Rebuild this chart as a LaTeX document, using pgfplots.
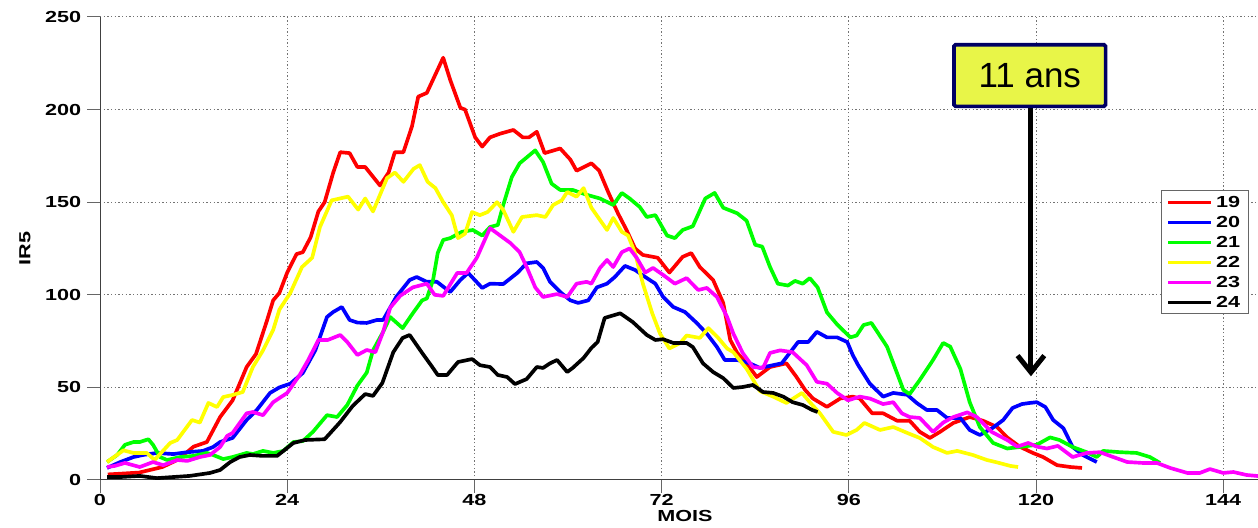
\documentclass[border=0pt]{standalone}
\usepackage{pgfplots}
\pgfplotsset{compat=1.18}
\usepackage{fontspec}
\setmainfont{Liberation Sans}
\newfontfamily\axfont[FakeStretch=1.35]{Liberation Sans}
\usetikzlibrary{arrows.meta}
\definecolor{boxfill}{RGB}{232,245,72}
\definecolor{boxdraw}{RGB}{0,0,100}
\definecolor{cR}{RGB}{255,0,0}
\definecolor{cB}{RGB}{0,0,255}
\definecolor{cG}{RGB}{0,255,0}
\definecolor{cY}{RGB}{255,255,0}
\definecolor{cM}{RGB}{255,0,255}
\definecolor{cK}{RGB}{0,0,0}
\begin{document}
\begin{tikzpicture}
\begin{axis}[
  scale only axis, width=702pt, height=277.8pt,
  xmin=0, xmax=150, ymin=0, ymax=250,
  axis x line*=bottom, axis y line*=left,
  axis line style={-, black!75, line width=0.6pt},
  xtick={0,24,48,72,96,120,144}, ytick={0,50,100,150,200,250},
  tick align=outside, major tick length=7.8pt,
  tick style={black!60, line width=0.6pt},
  grid=major,
  grid style={black!55, line width=0.6pt, dash pattern=on 0.7pt off 1.5pt},
  /pgf/number format/assume math mode=true,
  ticklabel style={font=\axfont\bfseries\fontsize{9.6}{11}\selectfont},
  xticklabel style={yshift=2.5pt},
  label style={font=\axfont\bfseries\fontsize{9.6}{11}\selectfont},
  title style={font=\axfont\bfseries\fontsize{9.6}{11}\selectfont, at={(0.5,1)}, anchor=base, yshift=7.8pt},
  title={ANNEES},
  xlabel={MOIS}, ylabel={IR5},
  xlabel style={at={(axis description cs:0.5,0)}, anchor=center, yshift=-21.5pt},
  ylabel style={at={(axis description cs:-0.0641,0.5)}, anchor=center},
  legend style={at={(axis cs:147.3,156.6)}, anchor=north east, draw=black!60, line width=0.5pt,
    font=\axfont\bfseries\fontsize{9.6}{11}\selectfont, row sep=0pt, inner xsep=3pt, inner ysep=1pt,
    nodes={text height=7pt, text depth=1pt, inner sep=2pt}},
  legend image code/.code={\draw[#1, line width=1.8pt] (0pt,0pt) -- (26pt,0pt);},
  every axis plot/.append style={line width=2.2pt, line join=round},
]
\addplot[cR] coordinates {(1,3)(3,3.5)(5,4)(7,6)(8,7)(10,11)(12,18)(13.7,20.5)(15.4,34)(17,43)(18.8,61)(20,68)(21.4,86)(22.2,97)(23,101)(24,112)(25.2,122)(26,123)(27,131)(28,145)(28.8,150)(29.9,166)(30.8,177)(32,176.5)(33,169)(34,169)(35.9,159)(37,166)(37.8,177)(38.9,177)(40,191)(40.8,207)(41.9,209)(44,228)(44.9,216)(46.2,201)(46.8,200)(48.1,185)(49,180)(50,185)(51.3,187)(53,189)(54.2,185)(55,185)(56,188)(57,176.5)(59,179)(60.3,173)(61.1,167)(63,171)(64,167)(65.2,155)(66.4,144)(67.5,135)(68.6,125)(69.6,121.5)(71.5,120)(73,112)(74.7,120.5)(75.8,122.5)(76.9,115)(78.6,108)(79.9,95.6)(80.8,75.6)(81.7,68.6)(82.9,63)(84.2,55.6)(85.9,61)(88,63)(89.3,55.6)(90.4,48.6)(91.4,44)(93.2,39.5)(94.9,44)(96.5,45)(97.4,44)(99,36)(100.4,36)(102.2,32)(103.8,32)(105.1,26)(106.4,22.7)(107.7,26)(109.4,30.8)(111.5,34)(113.2,32)(115,28.6)(116.3,23)(117.9,18)(119.6,14.6)(120.9,12.4)(122.7,8)(124.4,7)(125.9,6.5)};
\addlegendentry{19}
\addplot[cB] coordinates {(0.9,6.5)(2.6,9.7)(4.3,12.4)(5.5,13.5)(7.3,14.6)(9.4,14)(11.2,15)(13.2,15.7)(14.5,17.8)(15.4,20.5)(17,22.7)(18.8,32.4)(20.1,37.8)(21.8,47)(23,50)(24.4,52)(26,57.8)(27.6,70)(29.1,88)(29.9,90.7)(31,93.4)(32,86.4)(33,85)(34.2,84.8)(35.5,86.4)(36.3,86.4)(38,99)(39.7,108)(40.6,109.6)(41.9,107)(43.2,107)(44.9,101.5)(46.2,108)(47.2,111.8)(49,103.7)(50,106)(51.7,105.8)(53.5,111.8)(54.7,117)(56,117.7)(56.8,114.5)(57.7,107)(59,101.5)(60.3,97)(61.3,95.6)(62.6,97)(63.7,104)(65,106)(66,109.6)(67.3,115.6)(68.6,113.4)(69.9,109.6)(71.2,106)(72.2,98.8)(73.5,93.4)(75,90.7)(76.5,84.8)(77.8,79)(79.1,71.8)(80.1,64.8)(81.7,64.8)(83.3,63)(84.6,60.5)(86.3,62)(87.4,63)(88.5,69)(89.5,74.5)(90.8,74.5)(91.9,80)(93.2,77)(94.5,77)(95.8,74.5)(96.5,67.5)(97.2,62)(98.7,52)(100.4,45)(101.7,47)(103.5,46)(104.7,41.6)(106,37.8)(107.3,37.8)(108.6,33.5)(110.3,33.5)(111.5,27)(112.8,24.3)(114.4,28)(115.8,32.4)(117,38.9)(118.2,41)(119.2,41.6)(120.1,42)(121.2,39.4)(122.2,32.4)(123.5,28)(124.7,17.8)(126,13.5)(127.8,9.7)};
\addlegendentry{20}
\addplot[cG] coordinates {(0.9,9.7)(2.2,13.5)(3.2,19)(4.3,20.5)(5.1,20.5)(6.2,22)(6.8,19)(7.7,12.4)(8.6,10.8)(10.3,12.4)(12,13)(13.7,14.6)(14.5,13.5)(15.8,11.3)(17,12.4)(18.8,14.6)(19.6,14)(20.9,15.7)(22.2,14.6)(23.5,15.7)(24.8,20.5)(26,21)(27.3,26)(29.1,35)(30.4,34)(31.7,40.5)(33,51)(34.2,58)(35,70)(36.3,80)(37.2,88)(38.8,82)(40.1,90)(41.3,97)(41.9,98)(42.7,108)(43.3,122.6)(44,129.6)(44.9,130.6)(46.4,134)(47.8,135)(49,132)(50,136.6)(51,137.7)(51.7,148.5)(52.8,163.6)(53.8,171)(55.8,178)(56.8,171.7)(57.9,160)(59,156.6)(60.6,156.6)(62.4,154)(64.1,152)(65.8,148.5)(66.9,155)(67.9,152)(69.2,147.4)(70.1,142)(71.2,143)(72.7,132)(73.7,130.6)(74.7,135)(76,137)(77.6,152)(78.8,155)(79.9,147)(81.7,144)(82.9,140)(84,127)(84.9,126)(85.9,115)(86.9,106)(88.2,105)(89.1,107.5)(90.1,106)(91,109)(92,104)(93.2,90.5)(94.5,84)(96.2,77)(97,78)(97.9,83.7)(98.9,84.8)(100.9,72)(103,48.6)(103.8,46.4)(105.1,54)(106.8,64.8)(108.1,74)(109,72)(110.3,60)(111.5,42)(112.8,28.6)(114.5,20)(116.3,17)(117.9,17.8)(120.1,19)(121.8,23)(123,21.6)(124.7,17.8)(126.5,15)(127.8,12.4)(128.6,15.7)(130.8,15)(132.9,14.6)(134.6,12.4)(135.9,9.2)};
\addlegendentry{21}
\addplot[cY] coordinates {(0.9,9.7)(3,16)(4.3,14.6)(6,14.6)(7,10.8)(9,20)(9.9,21.6)(11.8,32.4)(12.8,31)(13.9,41.6)(15,39.4)(15.8,44.8)(17,45.9)(18.3,47.5)(19.6,61)(20.9,70)(22.2,81)(23,92)(24.4,101)(25.9,115)(27.2,120)(28.2,136.6)(29.7,151)(31.8,153)(33.1,146)(34,152)(35,145)(36.8,163)(37.8,166)(38.9,161)(40.2,168)(41,170)(42,161)(43,157.6)(44,150)(45.1,143)(45.9,130.6)(46.8,133)(47.7,144.7)(48.7,143)(49.7,144.7)(50.9,150)(51.7,145.8)(53,134)(54.1,142)(56,143)(57.1,142)(58.1,148.5)(59.2,151)(59.9,155.5)(61.1,153)(62,157.6)(63,147)(65,135)(65.8,141.5)(66.9,134)(67.7,132)(68.6,122.5)(69.6,106)(70.8,90)(71.8,79)(73,71)(74.4,74)(75.2,78)(76.9,76.7)(78,82)(79.2,77)(80.4,71)(81.2,69)(82.9,60)(84.6,48)(86.3,45)(88,41.6)(90,47)(91,42)(92.3,36)(94,26)(95.7,24.3)(97,27)(98,30.8)(100,27)(101.7,28.6)(103.5,25.4)(105.1,22.7)(106.8,17.8)(108.6,14.6)(109.9,15.7)(111.9,13.5)(113.7,10.8)(115,9.5)(116.7,7.6)(117.7,7)};
\addlegendentry{22}
\addplot[cM] coordinates {(0.9,7)(1.9,7.6)(3.2,9.2)(5.1,7)(6.8,9.7)(8.1,8)(9.9,10.8)(11.2,10.3)(12.8,12.4)(14.1,13.5)(15.4,17.8)(16.3,23.8)(17,25.4)(18.8,36)(19.6,36.7)(20.9,35)(22.2,42)(24,47)(25.6,56.7)(26.7,64.8)(28,75.6)(29.2,75.6)(30.8,78.3)(31.7,74.5)(33,67.5)(34.2,70.2)(35.3,69)(36.3,80)(37.2,93)(38.5,99.5)(40.1,104)(41.9,106)(42.9,100)(44,99.4)(45.8,111.8)(47,111.8)(48.3,119.9)(50,136)(51.3,132)(52.6,128)(53.8,123)(54.7,115)(55.8,104)(56.8,98.8)(58.6,100.4)(59.9,98.8)(61.1,106)(62.4,107)(63,106)(64.1,114.5)(65,118.8)(65.8,115)(66.9,123)(67.9,125)(68.8,120)(69.9,112)(70.9,114.5)(72.2,110.7)(73.7,106)(75.2,109)(76.7,102.6)(77.8,103.7)(79.1,98.8)(80.4,88)(81.2,79)(82.4,68.6)(83.7,61)(85,60.5)(85.9,68.6)(87.2,70)(88.8,69)(90.6,62)(91.9,53)(93.2,52)(94.5,47)(95.9,43)(97.4,45)(98.7,44)(100.4,41)(101.7,42)(102.8,36)(103.8,34)(105.1,33.5)(106.8,26)(108.1,31)(109.4,34)(111.2,36.5)(112.4,34)(114.3,26)(116.3,21.6)(117.6,18)(119,20)(120.1,18)(121.4,17)(122.8,18.4)(124.7,12.4)(126.5,14.6)(128.2,15)(129.9,12.4)(131.7,9.7)(133.7,9.2)(135.5,9.2)(137.2,6.5)(139.4,3.8)(141,3.8)(142.3,5.9)(144,3.8)(145.3,4.3)(147,2.7)(148.3,2.2)(149.5,2)};
\addlegendentry{23}
\addplot[cK] coordinates {(0.9,1.6)(2.6,1.6)(5.1,2.2)(7.3,1)(9.4,1.6)(11.5,2.2)(14.1,3.8)(15.4,5.4)(16.7,9.7)(17.9,12.4)(19.2,13.5)(20.9,13)(22.7,13)(24.8,20)(26.3,21.6)(28.8,22)(30.8,31.3)(32.4,40)(34,46.4)(35,45.4)(36.2,52.4)(37.6,69)(38.8,76.7)(39.7,78.3)(41.3,68.6)(42.6,61)(43.3,56.7)(44.5,56.7)(45.9,63.7)(47.7,65.3)(48.7,62)(50,61)(51,56.7)(52.2,55.6)(53.2,51.8)(54.7,54.5)(56,61)(56.8,60.5)(57.7,63)(58.6,64.8)(59.9,58.3)(60.6,60.5)(62,65.9)(63,71.3)(63.8,74.5)(64.7,87.5)(66.7,90)(68.3,85.3)(70.1,78.3)(71.2,75.6)(72.2,76)(73.5,74)(75.2,74)(76,71.8)(77.3,63)(78.6,58.3)(79.9,55)(81.2,49.7)(82.4,50.2)(83.7,51.3)(85,47.5)(86.3,47)(87.6,45)(88.8,42)(90.1,40.5)(91.3,37.8)(92,36.7)};
\addlegendentry{24}
\draw[black, line width=3pt, -{Straight Barb[length=10pt,width=16pt,line width=3pt]}] (axis cs:119.35,202) -- (axis cs:119.35,56);
\node[fill=boxfill, draw=boxdraw, line width=2.2pt, rounded corners=1pt, minimum width=91pt, minimum height=37pt, inner sep=0pt, font=\fontsize{21}{24}\selectfont] at (axis cs:119.2,218.4) {11 ans};
\end{axis}
\pgfresetboundingbox
\path[use as bounding box] ([xshift=-60pt,yshift=-28.8pt]current axis.south west) rectangle ([xshift=-7.2pt,yshift=10.2pt]current axis.north east);
\end{tikzpicture}
\end{document}
